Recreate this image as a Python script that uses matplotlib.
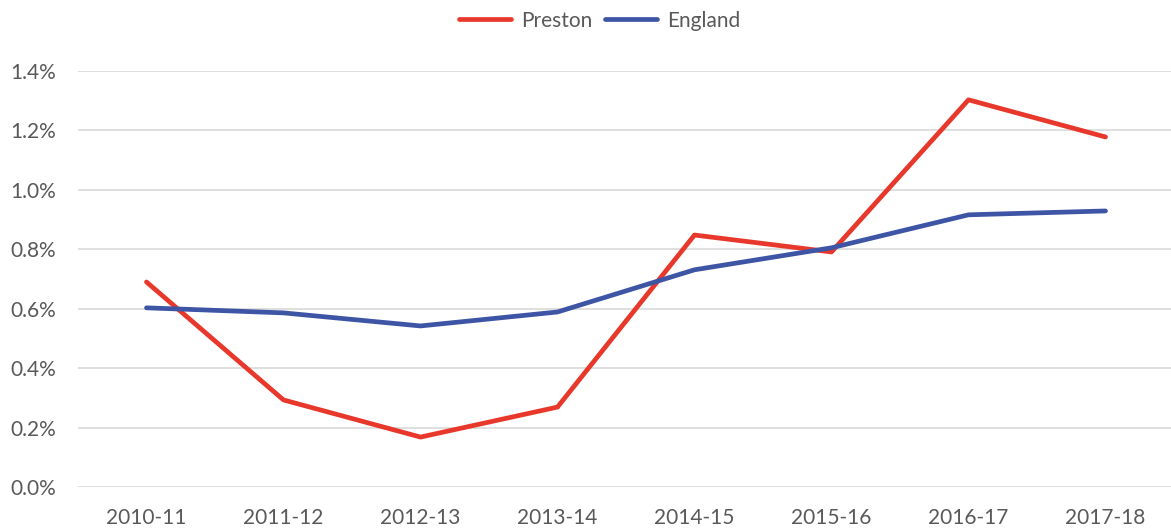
import matplotlib.pyplot as plt
from matplotlib.ticker import FuncFormatter

years = ["2010-11", "2011-12", "2012-13", "2013-14", "2014-15", "2015-16", "2016-17", "2017-18"]
preston = [0.690, 0.293, 0.168, 0.269, 0.848, 0.791, 1.303, 1.178]
england = [0.603, 0.586, 0.542, 0.589, 0.731, 0.805, 0.916, 0.929]

plt.rcParams['font.family'] = ['Lato', 'DejaVu Sans']

fig = plt.figure(figsize=(11.71, 5.32), dpi=100)
ax = fig.add_axes([78 / 1171, 45 / 532, 1096 / 1171, 416 / 532])

x = range(len(years))
ax.plot(x, preston, color="#E8382B", lw=3.4, label="Preston", solid_capstyle="round", solid_joinstyle="round")
ax.plot(x, england, color="#3E55A5", lw=3.4, label="England", solid_capstyle="round", solid_joinstyle="round")

ax.set_xlim(-0.5, 7.5)
ax.set_ylim(0, 1.4)
ax.set_yticks([0.0, 0.2, 0.4, 0.6, 0.8, 1.0, 1.2, 1.4])
ax.yaxis.set_major_formatter(FuncFormatter(lambda v, p: f"{v:.1f}%"))
ax.set_xticks(list(x))
ax.set_xticklabels(years)
ax.grid(axis="y", color="#D9D9D9", lw=1.2)
ax.set_axisbelow(True)
for s in ax.spines.values():
    s.set_visible(False)
ax.tick_params(length=0, labelsize=15, colors="#595959")
ax.tick_params(axis="y", pad=16)
ax.tick_params(axis="x", pad=15)

fig.legend(loc="upper center", bbox_to_anchor=(0.512, 1.015), ncol=2, frameon=False,
           fontsize=15, labelcolor="#595959", handlelength=2.5, columnspacing=0.6, handletextpad=0.5)

fig.savefig("out.png")
